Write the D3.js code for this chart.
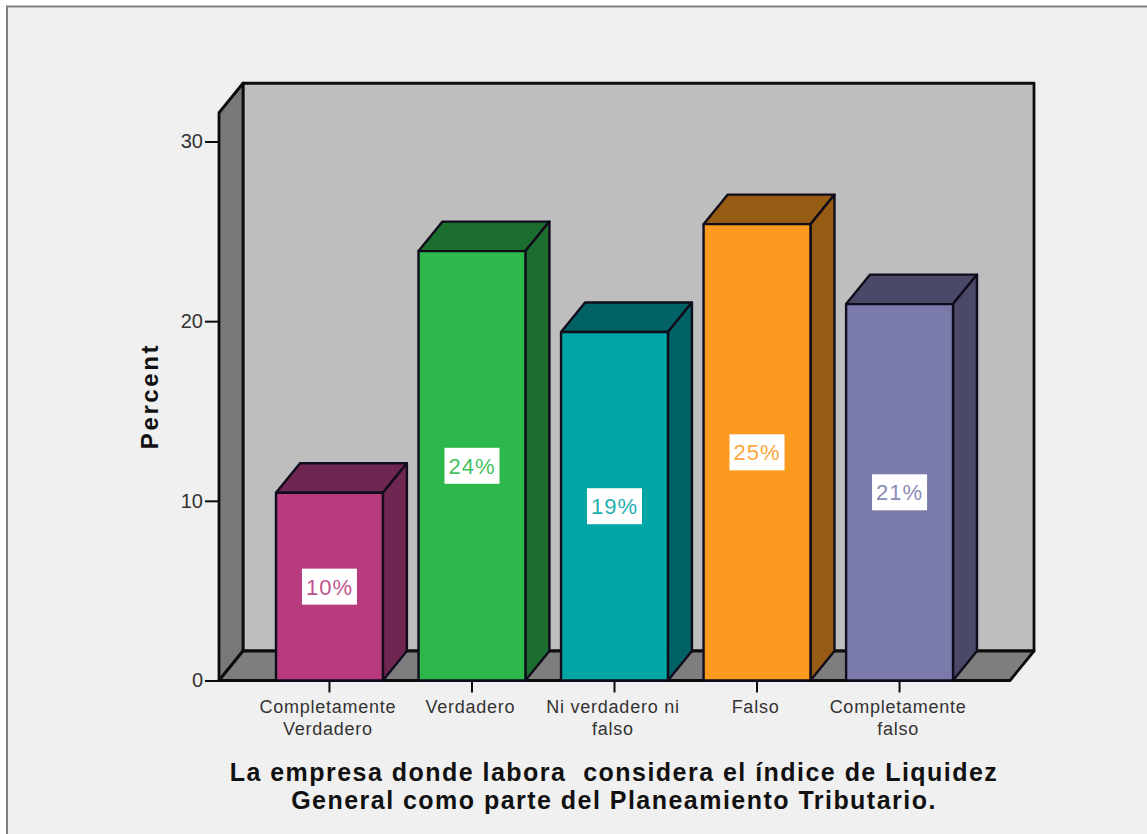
<!DOCTYPE html>
<html><head><meta charset="utf-8">
<script src="https://cdn.jsdelivr.net/npm/d3@7"></script>
<style>html,body{margin:0;padding:0;background:#fff;overflow:hidden}svg{display:block}text{font-family:"Liberation Sans",Arial,sans-serif}</style>
</head><body><svg id="c" width="1147" height="834"></svg>
<script>
const categories = [["Completamente","Verdadero"],["Verdadero"],["Ni verdadero ni","falso"],["Falso"],["Completamente","falso"]];
const percents = [10.45, 23.9, 19.4, 25.4, 20.95];
const barLabels = ["10%","24%","19%","25%","21%"];
const frontColors = ["#B83B7E","#2DB84B","#00A5A5","#FB9A1E","#7B7BAB"];
const sideColors = ["#6F2650","#1B6E2D","#006265","#975C13","#4A4A68"];
const yTicks = [0,10,20,30];
const titleLines = ["La empresa donde labora  considera el índice de Liquidez","General como parte del Planeamiento Tributario."];
const yTitle = "Percent";

const svg = d3.select("#c");
const ink = "#0c0c0c";
const X0=219, X1=1010, dx=24, dy=29.5;
const y = d3.scaleLinear().domain([0,30]).range([680.5,141.5]);
const topV = 31.6;
const x = d3.scaleBand().domain(d3.range(categories.length)).range([X0,X1]).paddingInner(0.25).paddingOuter(0.4);
const pts = a => a.map(p=>p.join(",")).join(" ");

svg.append("rect").attr("x",7).attr("y",6.5).attr("width",1150).attr("height",840).attr("fill","#F0F0F0").attr("stroke","#808080").attr("stroke-width",2);

const yTop = y(topV);
const walls = svg.append("g").attr("stroke",ink).attr("stroke-width",2.8).attr("stroke-linejoin","round");
walls.append("polygon").attr("points",pts([[X0+dx,y(0)-dy],[X1+dx,y(0)-dy],[X1+dx,yTop-dy],[X0+dx,yTop-dy]])).attr("fill","#BEBEBE");
walls.append("polygon").attr("points",pts([[X0,y(0)],[X0+dx,y(0)-dy],[X0+dx,yTop-dy],[X0,yTop]])).attr("fill","#787878");
walls.append("polygon").attr("points",pts([[X0,y(0)],[X1,y(0)],[X1+dx,y(0)-dy],[X0+dx,y(0)-dy]])).attr("fill","#7E7E7E");

const bars = svg.append("g").selectAll("g").data(percents).join("g").attr("stroke","#100c1c").attr("stroke-width",2.4).attr("stroke-linejoin","round");
bars.append("polygon").attr("fill",(d,i)=>sideColors[i]).attr("points",(d,i)=>{const l=x(i),r=l+x.bandwidth(),t=y(d);return pts([[l,t],[l+dx,t-dy],[r+dx,t-dy],[r,t]]);});
bars.append("polygon").attr("fill",(d,i)=>sideColors[i]).attr("points",(d,i)=>{const r=x(i)+x.bandwidth(),t=y(d);return pts([[r,t],[r+dx,t-dy],[r+dx,y(0)-dy],[r,y(0)]]);});
bars.append("rect").attr("fill",(d,i)=>frontColors[i]).attr("x",(d,i)=>x(i)).attr("y",d=>y(d)).attr("width",x.bandwidth()).attr("height",d=>y(0)-y(d));

const lab = svg.append("g").selectAll("g").data(percents).join("g").attr("transform",(d,i)=>`translate(${x(i)+x.bandwidth()/2},${(y(d)+y(0))/2})`);
lab.append("rect").attr("x",-27.5).attr("y",-18).attr("width",55).attr("height",36).attr("fill","#fff");
lab.append("text").attr("text-anchor","middle").attr("dy","0.36em").attr("font-size",22).attr("letter-spacing",1).attr("fill",(d,i)=>frontColors[i]).attr("fill-opacity",0.9).text((d,i)=>barLabels[i]);

const yAxis = svg.append("g").attr("transform",`translate(${X0},0)`).call(d3.axisLeft(y).tickValues(yTicks).tickSize(14).tickPadding(2));
yAxis.select(".domain").remove();
yAxis.selectAll("line").attr("stroke",ink).attr("stroke-width",2);
yAxis.selectAll("text").attr("font-size",20).attr("fill","#333");

const xAxis = svg.append("g").attr("transform",`translate(0,${y(0)})`).call(d3.axisBottom(x).tickSize(12).tickFormat(""));
xAxis.select(".domain").remove();
xAxis.selectAll("line").attr("stroke",ink).attr("stroke-width",2);
const catG = svg.append("g").selectAll("text").data(categories).join("text").attr("text-anchor","middle").attr("font-size",18).attr("letter-spacing",0.75).attr("fill","#333");
catG.selectAll("tspan").data((d,i)=>d.map(s=>({s,i}))).join("tspan").attr("x",d=>x(d.i)+x.bandwidth()/2-1.5).attr("y",(d,j)=>713+j*21.5).text(d=>d.s);

svg.append("text").attr("transform",`translate(158,396) rotate(-90)`).attr("text-anchor","middle").attr("font-size",24).attr("letter-spacing",2.6).attr("font-weight","bold").attr("fill","#111").text(yTitle);
svg.append("g").selectAll("text").data(titleLines).join("text").attr("x",614).attr("y",(d,i)=>781+i*28).attr("text-anchor","middle").attr("font-size",25).attr("letter-spacing",1.47).attr("font-weight","bold").attr("xml:space","preserve").attr("fill","#111").text(d=>d);
</script></body></html>
